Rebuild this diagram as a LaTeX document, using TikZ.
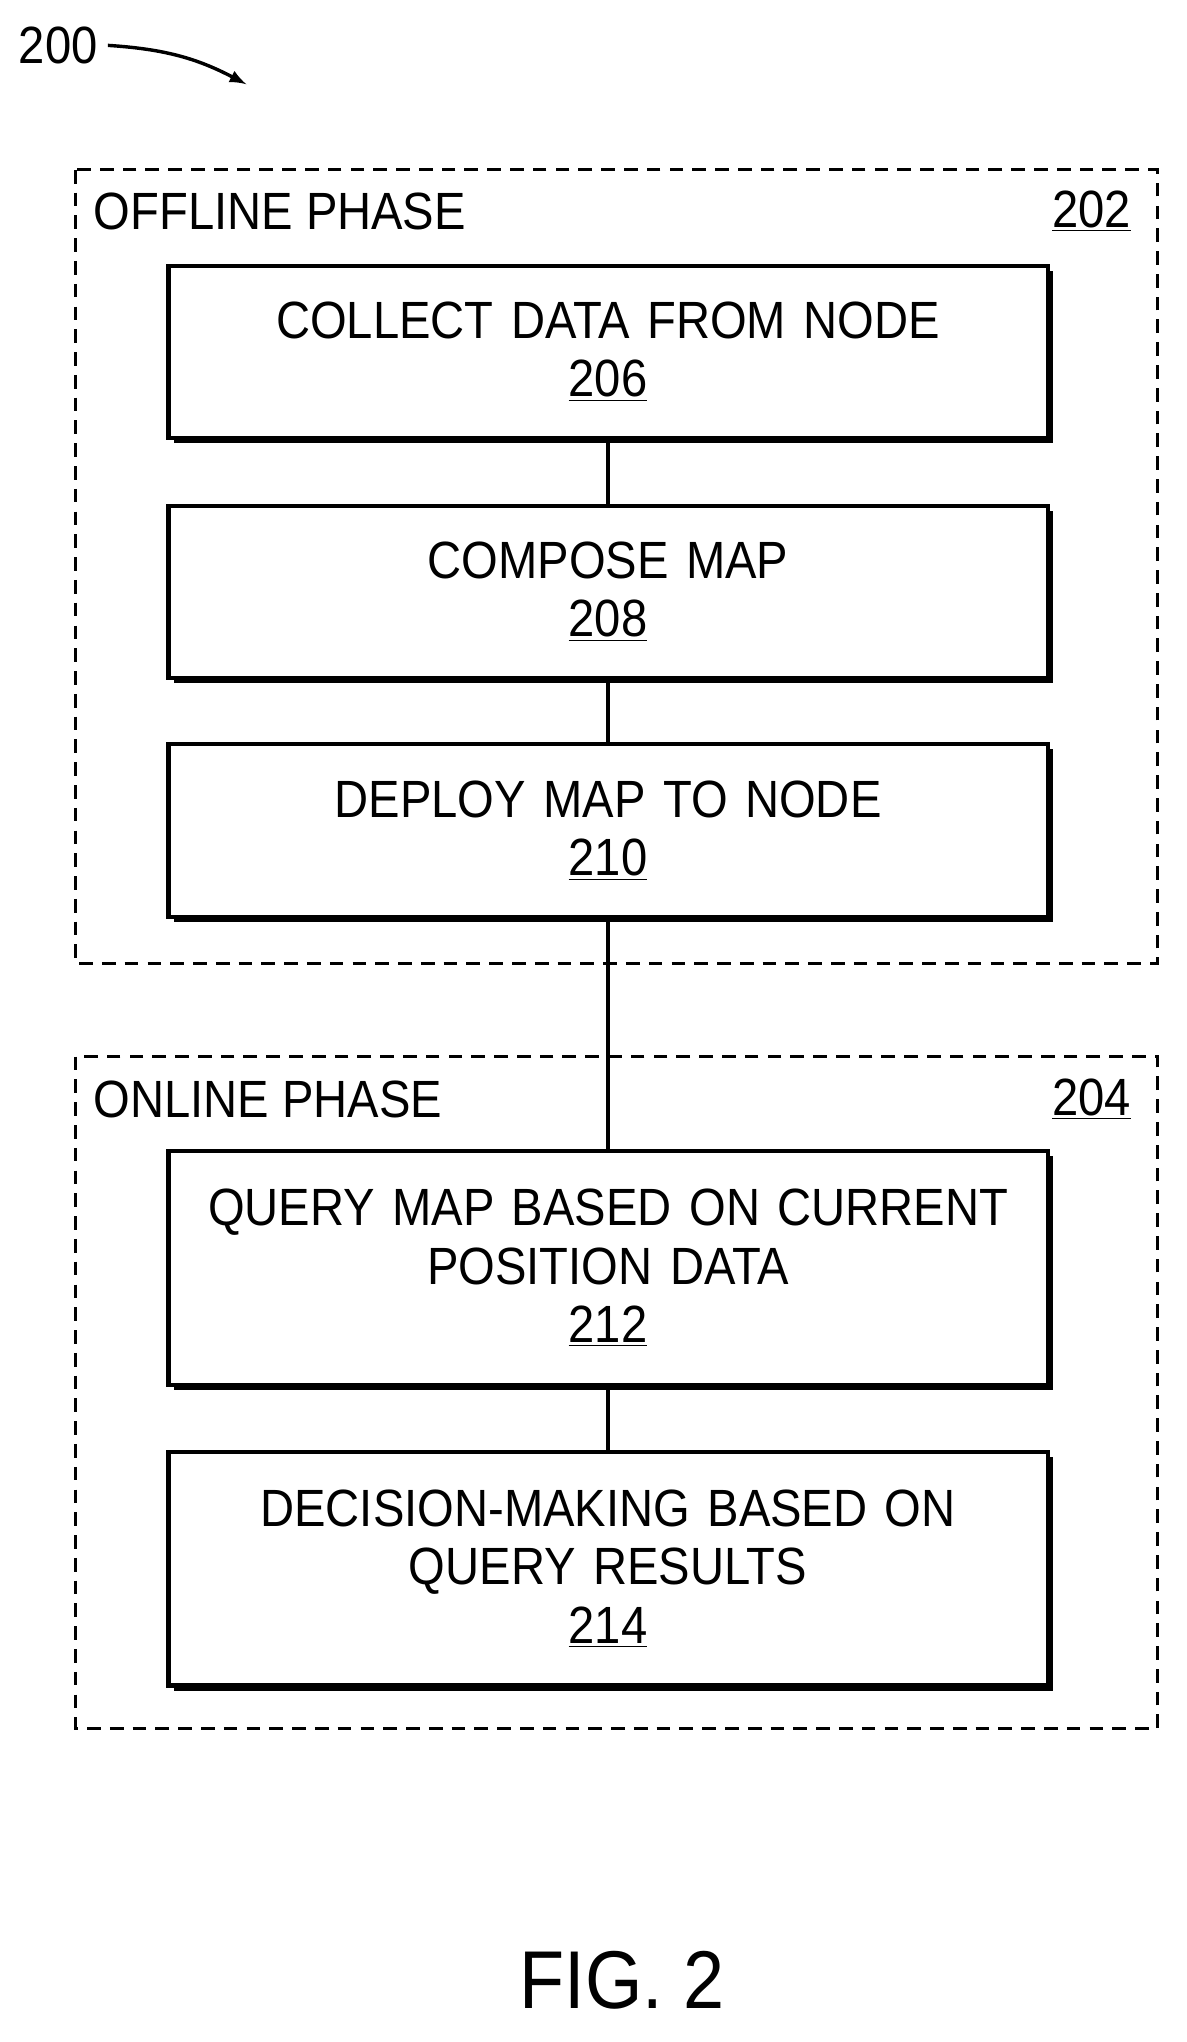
\documentclass[tikz,border=0pt]{standalone}
\usepackage{fontspec}
\setmainfont[FakeStretch=0.9]{Liberation Sans}
\usetikzlibrary{shadows}
\tikzset{
  stepbox/.style={draw=black, line width=1.8pt, fill=white, minimum width=13.56cm,
    align=center, text width=13.3cm, font=\fontsize{23}{25.6}\selectfont,
    drop shadow={shadow xshift=0.08cm, shadow yshift=-0.08cm, fill=black, opacity=1}},
  phase/.style={draw=black, line width=1.3pt, dash pattern=on 6pt off 4pt},
  tag/.style={font=\fontsize{23}{25.6}\selectfont, inner sep=0pt}
}
\begin{document}
\begin{tikzpicture}
\useasboundingbox (0,0) rectangle (18.3,-31.5);

% phases
\draw[phase] (1.16,-2.62) rectangle (17.86,-14.86);
\node[tag, anchor=west] (offl) at (1.44,-3.26) {OFFLINE PHASE};
\node[tag] (n202) at (16.84,-3.26) {\underline{202}};
\draw[phase] (1.16,-16.3) rectangle (17.86,-26.66);
\node[tag, anchor=west] (onl) at (1.44,-16.96) {ONLINE PHASE};
\node[tag] (n204) at (16.84,-16.96) {\underline{204}};

% steps
\node[stepbox, minimum height=2.66cm] (collect) at (9.38,-5.43) {COLLECT DATA FROM NODE\\\underline{206}};
\node[stepbox, minimum height=2.66cm] (compose) at (9.38,-9.13) {COMPOSE MAP\\\underline{208}};
\node[stepbox, minimum height=2.66cm] (deploy) at (9.38,-12.81) {DEPLOY MAP TO NODE\\\underline{210}};
\node[stepbox, minimum height=3.6cm] (query) at (9.38,-19.56) {QUERY MAP BASED ON CURRENT\\POSITION DATA\\\underline{212}};
\node[stepbox, minimum height=3.6cm] (decide) at (9.38,-24.2) {DECISION-MAKING BASED ON\\QUERY RESULTS\\\underline{214}};

\draw[line width=1.5pt] (collect) -- (compose);
\draw[line width=1.5pt] (compose) -- (deploy);
\draw[line width=1.5pt] (deploy) -- (query);
\draw[line width=1.5pt] (query) -- (decide);

% reference
\node[tag] (n200) at (0.9,-0.7) {200};
\coordinate (tip) at (3.8,-1.3);
\draw[line width=1.5pt, -latex] (n200.east) ++(0.15,0) to[bend left=12] (tip);

\node[font=\fontsize{36}{40}\selectfont] (fig) at (9.6,-30.55) {FIG. 2};
\end{tikzpicture}
\end{document}
